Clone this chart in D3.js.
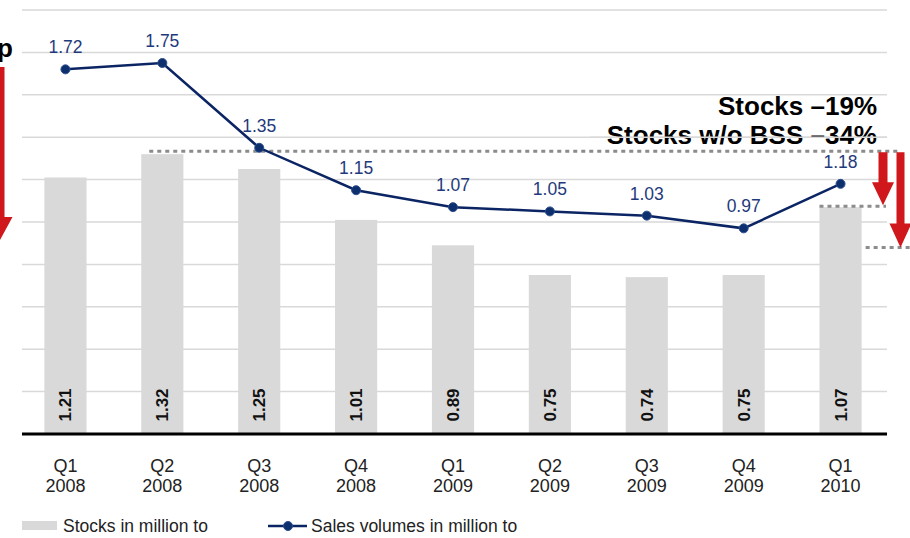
<!DOCTYPE html>
<html>
<head>
<meta charset="utf-8">
<script src="https://cdn.jsdelivr.net/npm/d3@7"></script>
<style>
  html, body { margin: 0; padding: 0; background: #fff; }
  svg { display: block; font-family: "Liberation Sans", Arial, sans-serif; }
</style>
</head>
<body>
<svg id="chart" width="910" height="538"></svg>
<script>
const quarters = ["Q1", "Q2", "Q3", "Q4", "Q1", "Q2", "Q3", "Q4", "Q1"];
const years = ["2008", "2008", "2008", "2008", "2009", "2009", "2009", "2009", "2010"];
const stocks = [1.21, 1.32, 1.25, 1.01, 0.89, 0.75, 0.74, 0.75, 1.07];
const sales = [1.72, 1.75, 1.35, 1.15, 1.07, 1.05, 1.03, 0.97, 1.18];
const yTicks = [0, 0.2, 0.4, 0.6, 0.8, 1.0, 1.2, 1.4, 1.6, 1.8, 2.0];
const stocksLevelStart = 1.32;
const stocksLevelEnd = 1.07;
const stocksWoBssLevel = 0.87;
const legendLabels = ["Stocks in million to", "Sales volumes in million to"];
const annotations = ["Stocks \u201319%", "Stocks w/o BSS \u201334%"];

const svg = d3.select("#chart");
const keys = quarters.map((q, i) => i);

const x = d3.scaleBand().domain(keys).range([17, 889]).paddingInner(0.565).paddingOuter(0.2825);
const y = d3.scaleLinear().domain([0, 2]).range([434, 10]);
const cx = i => x(i) + x.bandwidth() / 2;

const gridL = 22, gridR = 887;
const navy = "#0b2463";
const labelBlue = "#1f3a7c";
const red = "#d0171b";
const dotGray = "#8c8c8c";

// gridlines
const grid = svg.append("g");
grid.selectAll("line").data(yTicks.filter(d => d > 0)).join("line")
  .attr("x1", gridL).attr("x2", gridR)
  .attr("y1", d => y(d)).attr("y2", d => y(d))
  .attr("stroke", "#d9d9d9").attr("stroke-width", 1.5);

// bars
svg.append("g").selectAll("rect").data(stocks).join("rect")
  .attr("x", (d, i) => x(i)).attr("width", x.bandwidth())
  .attr("y", d => y(d)).attr("height", d => y(0) - y(d))
  .attr("fill", "#d9d9d9");

// bar value labels (rotated)
svg.append("g").selectAll("text").data(stocks).join("text")
  .attr("transform", (d, i) => `translate(${cx(i) + 6},${405}) rotate(-90)`)
  .attr("text-anchor", "middle")
  .attr("font-size", 17).attr("font-weight", "bold").attr("fill", "#111")
  .text(d => d.toFixed(2));

// baseline
svg.append("line").attr("x1", gridL).attr("x2", gridR)
  .attr("y1", y(0)).attr("y2", y(0)).attr("stroke", "#000").attr("stroke-width", 3);

// dotted reference lines
const dots = svg.append("g").attr("stroke", dotGray).attr("stroke-width", 3).attr("stroke-dasharray", "4,4");
dots.append("line").attr("x1", x(1) + 8).attr("x2", 900)
  .attr("y1", y(stocksLevelStart) - 3).attr("y2", y(stocksLevelStart) - 3);
dots.append("line").attr("x1", x(8)).attr("x2", 886)
  .attr("y1", y(stocksLevelEnd) - 1).attr("y2", y(stocksLevelEnd) - 1);
dots.append("line").attr("x1", x(8) + x.bandwidth() + 4).attr("x2", 910)
  .attr("y1", y(stocksWoBssLevel) - 2).attr("y2", y(stocksWoBssLevel) - 2);

// red arrows
function arrow(xc, y0, yTip, shaftHalf, headHalf, headLen) {
  const p = [
    [xc - shaftHalf, y0], [xc + shaftHalf, y0], [xc + shaftHalf, yTip - headLen],
    [xc + headHalf, yTip - headLen], [xc, yTip], [xc - headHalf, yTip - headLen],
    [xc - shaftHalf, yTip - headLen]
  ];
  svg.append("path").attr("d", d3.line()(p) + "Z").attr("fill", red);
}
arrow(883, y(stocksLevelStart) - 2, y(stocksLevelEnd) - 2, 4.5, 11, 23);
arrow(900.5, y(stocksLevelStart) - 2, y(stocksWoBssLevel) - 2, 4, 11, 24);
arrow(0, 67, 240, 4.5, 12.5, 23);

// annotations
svg.append("text").attr("x", 877).attr("y", 115).attr("text-anchor", "end")
  .attr("font-size", 26).attr("font-weight", "bold").attr("fill", "#000").text(annotations[0]);
svg.append("text").attr("x", 877).attr("y", 144).attr("text-anchor", "end")
  .attr("font-size", 26).attr("font-weight", "bold").attr("fill", "#000").text(annotations[1]);
svg.append("text").attr("x", 13).attr("y", 57).attr("text-anchor", "end")
  .attr("font-size", 26).attr("font-weight", "bold").attr("fill", "#000").text("p");
// gridline over annotation text (as in original)
svg.append("line").attr("x1", 590).attr("x2", gridR)
  .attr("y1", y(1.4)).attr("y2", y(1.4)).attr("stroke", "#d9d9d9").attr("stroke-width", 1.5);

// sales line
svg.append("path").datum(sales)
  .attr("d", d3.line().x((d, i) => cx(i)).y(d => y(d)))
  .attr("fill", "none").attr("stroke", navy).attr("stroke-width", 2.5);
svg.append("g").selectAll("circle").data(sales).join("circle")
  .attr("cx", (d, i) => cx(i)).attr("cy", d => y(d)).attr("r", 4.5)
  .attr("fill", "#0d2f6e").attr("stroke", "#2c4f8f").attr("stroke-width", 1);
svg.append("g").selectAll("text").data(sales).join("text")
  .attr("x", (d, i) => cx(i)).attr("y", d => y(d) - 16)
  .attr("text-anchor", "middle").attr("font-size", 17.5).attr("fill", labelBlue)
  .text(d => d.toFixed(2));

// x axis labels
const xl = svg.append("g").selectAll("text").data(keys).join("text")
  .attr("text-anchor", "middle").attr("font-size", 18).attr("fill", "#222");
xl.append("tspan").attr("x", i => cx(i)).attr("y", 472).text(i => quarters[i]);
xl.append("tspan").attr("x", i => cx(i)).attr("y", 492).text(i => years[i]);

// legend
svg.append("rect").attr("x", 22).attr("y", 521).attr("width", 35).attr("height", 9).attr("fill", "#d9d9d9");
svg.append("text").attr("x", 63).attr("y", 532).attr("font-size", 17.5).attr("fill", "#222").text(legendLabels[0]);
svg.append("line").attr("x1", 268).attr("x2", 307).attr("y1", 526).attr("y2", 526)
  .attr("stroke", navy).attr("stroke-width", 2.5);
svg.append("circle").attr("cx", 288).attr("cy", 526).attr("r", 4.5).attr("fill", "#0d2f6e").attr("stroke", "#2c4f8f");
svg.append("text").attr("x", 311).attr("y", 532).attr("font-size", 17.5).attr("fill", "#222")
  .text(legendLabels[1]);
</script>
</body>
</html>
